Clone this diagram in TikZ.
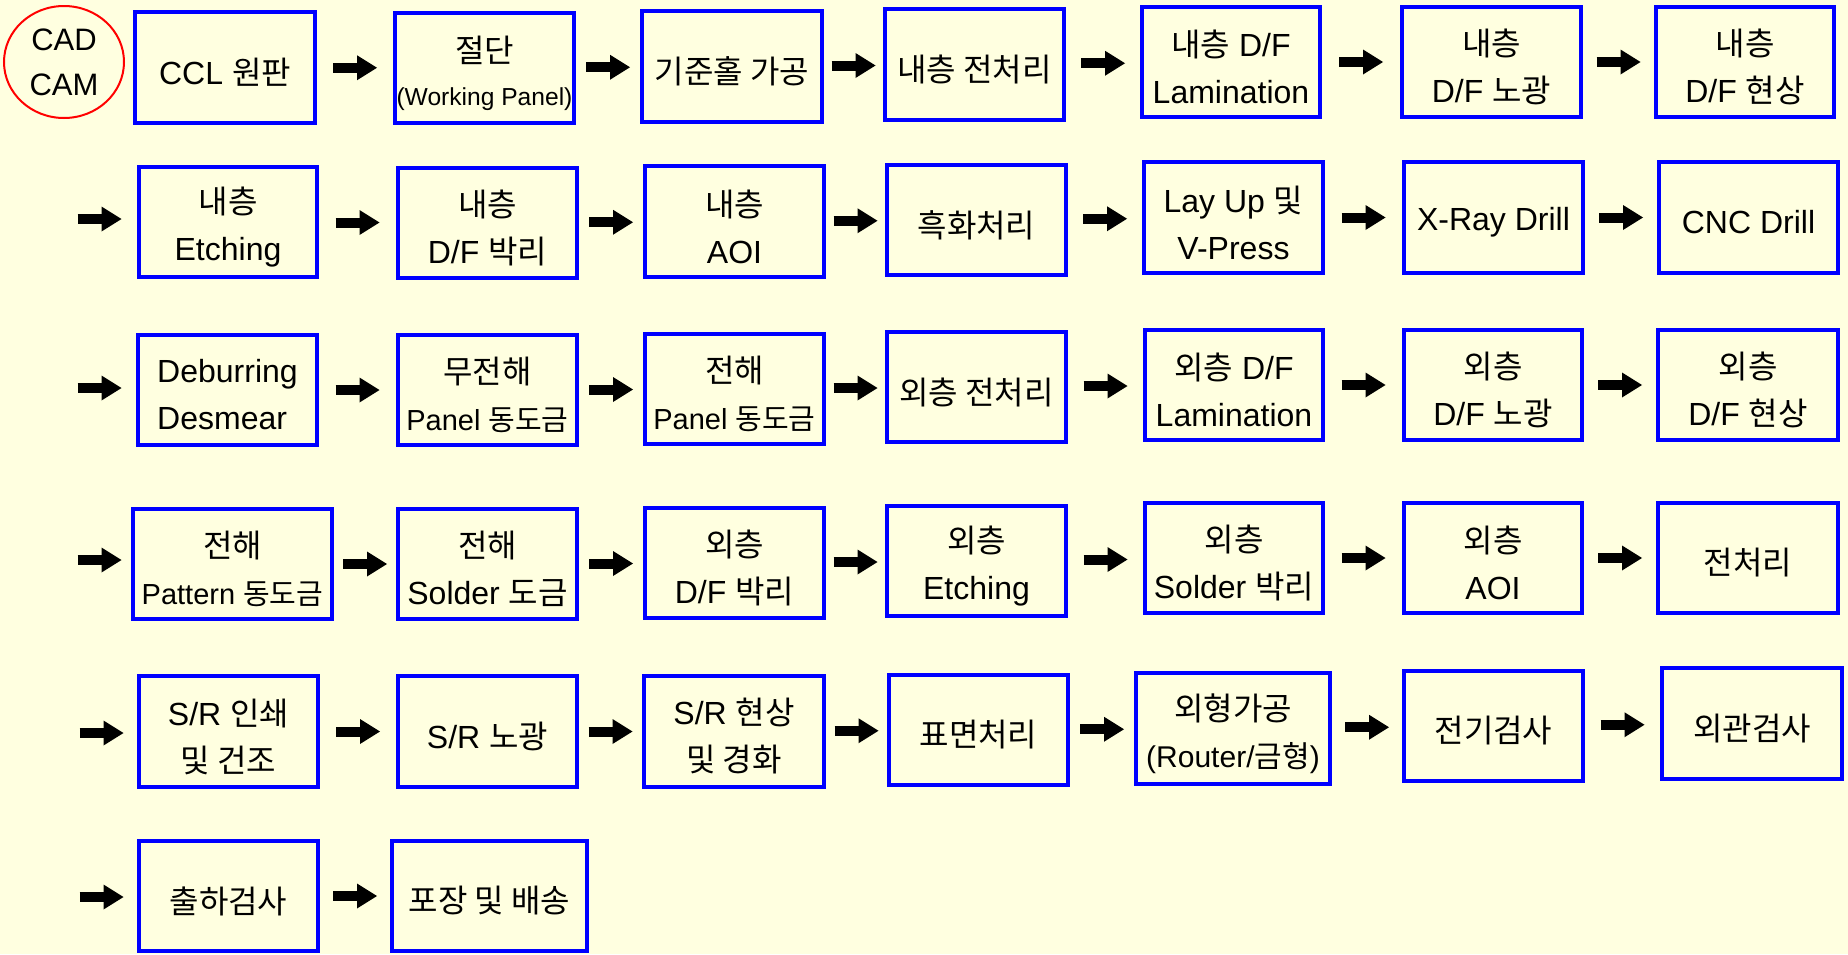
\documentclass[tikz,border=0pt]{standalone}
\usepackage{fontspec}
\setmainfont{Liberation Sans}
\newfontfamily\kr{Noto Sans CJK KR}
\usetikzlibrary{arrows.meta,shapes.geometric,calc}
\newcommand\K[1]{{\kr #1}}
\definecolor{bgyellow}{HTML}{FFFFE0}
\definecolor{boxblue}{HTML}{0000FF}
\tikzset{
  box/.style={draw=boxblue, line width=2pt, inner sep=0pt, outer sep=0pt},
  boxtext/.style={inner sep=0pt, align=center, font=\fontsize{16pt}{23.5pt}\selectfont},
  lefttext/.style={boxtext, align=left},
  arr/.style={line width=5pt, -{Triangle[length=10pt,width=12.5pt,line width=0pt]}},
  cad/.style={draw=red, line width=1pt, ellipse, inner sep=0pt, align=center,
    minimum width=60pt, minimum height=56pt, font=\fontsize{15.5pt}{22.5pt}\selectfont},
}
\newcommand\bx[7][boxtext]{\node[box, minimum width={(#5-#3-4)*0.5pt}, minimum height={(#6-#4-4)*0.5pt}] (#2) at ({(#3+#5)/2},{(#4+#6)/2}) {};
  \node[#1] (#2t) at ([yshift=-2.5pt]#2.center) {#7};}
\newcommand\link[3]{\path (#1.east) -- (#2.west) coordinate[pos=.5] (#3); \draw[arr] ([xshift=-11pt]#3) -- ([xshift=11pt]#3);}
\newcommand\startarr[3]{\coordinate (#1) at (#2,#3); \draw[arr] ([xshift=-11pt]#1) -- ([xshift=11pt]#1);}
\newcommand\sm[1]{{\fontsize{12.3pt}{14pt}\selectfont #1}}
\newcommand\smb[1]{{\fontsize{15pt}{16pt}\selectfont #1}}
\newcommand\nar[1]{{\fontsize{14.5pt}{16pt}\selectfont #1}}
\begin{document}
\begin{tikzpicture}[x=0.5pt,y=-0.5pt]
\fill[bgyellow] (0,0) rectangle (1848,954);
\useasboundingbox (0,0) rectangle (1848,954);
% Row 1
\node[cad] (cad) at (64,62) {CAD\\CAM};
\bx{b1}{133}{10}{317}{125}{CCL \K{원판}}
\bx{b2}{393}{11}{576}{125}{\K{절단}\\[-2pt]\sm{(Working Panel)}}
\bx{b3}{640}{9}{824}{124}{\K{기준홀 가공}}
\bx{b4}{883}{7}{1066}{122}{\K{내층 전처리}}
\bx{b5}{1140}{5}{1322}{119}{\K{내층} D/F\\Lamination}
\bx{b6}{1400}{5}{1583}{119}{\K{내층}\\D/F \K{노광}}
\bx{b7}{1654}{5}{1836}{119}{\K{내층}\\D/F \K{현상}}
\link{b1}{b2}{m12}\link{b2}{b3}{m23}\link{b3}{b4}{m34}\link{b4}{b5}{m45}\link{b5}{b6}{m56}\link{b6}{b7}{m67}
% Row 2
\bx{c1}{137}{165}{319}{279}{\K{내층}\\Etching}
\bx{c2}{396}{166}{579}{280}{\K{내층}\\D/F \K{박리}}
\bx{c3}{643}{164}{826}{279}{\K{내층}\\AOI}
\bx{c4}{885}{163}{1068}{277}{\K{흑화처리}}
\bx{c5}{1142}{160}{1325}{275}{Lay Up \K{및}\\V-Press}
\bx{c6}{1402}{160}{1585}{275}{X-Ray Drill}
\bx{c7}{1657}{160}{1840}{275}{CNC Drill}
\startarr{s2}{99.5}{219}
\link{c1}{c2}{n12}\link{c2}{c3}{n23}\link{c3}{c4}{n34}\link{c4}{c5}{n45}\link{c5}{c6}{n56}\link{c6}{c7}{n67}
% Row 3
\bx[lefttext]{d1}{136}{333}{319}{447}{Deburring\\Desmear}
\bx{d2}{396}{333}{579}{447}{\K{무전해}\\\nar{Panel \K{동도금}}}
\bx{d3}{643}{332}{826}{446}{\K{전해}\\\nar{Panel \K{동도금}}}
\bx{d4}{885}{330}{1068}{444}{\K{외층 전처리}}
\bx{d5}{1143}{328}{1325}{442}{\K{외층} D/F\\Lamination}
\bx{d6}{1402}{328}{1584}{442}{\K{외층}\\D/F \K{노광}}
\bx{d7}{1656}{328}{1840}{442}{\K{외층}\\D/F \K{현상}}
\startarr{s3}{99.5}{388}
\link{d1}{d2}{o12}\link{d2}{d3}{o23}\link{d3}{d4}{o34}\link{d4}{d5}{o45}\link{d5}{d6}{o56}\link{d6}{d7}{o67}
% Row 4
\bx{e1}{131}{507}{334}{621}{\K{전해}\\\nar{Pattern \K{동도금}}}
\bx{e2}{396}{507}{579}{621}{\K{전해}\\Solder \K{도금}}
\bx{e3}{643}{506}{826}{620}{\K{외층}\\D/F \K{박리}}
\bx{e4}{885}{504}{1068}{618}{\K{외층}\\Etching}
\bx{e5}{1143}{501}{1325}{615}{\K{외층}\\Solder \K{박리}}
\bx{e6}{1402}{501}{1584}{615}{\K{외층}\\AOI}
\bx{e7}{1656}{501}{1840}{615}{\K{전처리}}
\startarr{s4}{99.5}{560}
\link{e1}{e2}{p12}\link{e2}{e3}{p23}\link{e3}{e4}{p34}\link{e4}{e5}{p45}\link{e5}{e6}{p56}\link{e6}{e7}{p67}
% Row 5
\bx{f1}{137}{674}{320}{789}{S/R \K{인쇄}\\\K{및 건조}}
\bx{f2}{396}{674}{579}{789}{S/R \K{노광}}
\bx{f3}{642}{674}{826}{789}{S/R \K{현상}\\\K{및 경화}}
\bx{f4}{887}{673}{1070}{787}{\K{표면처리}}
\bx{f5}{1134}{671}{1332}{786}{\K{외형가공}\\\smb{(Router/\K{금형})}}
\bx{f6}{1402}{669}{1585}{783}{\K{전기검사}}
\bx{f7}{1660}{666}{1844}{781}{\K{외관검사}}
\startarr{s5}{101.5}{733}
\link{f1}{f2}{q12}\link{f2}{f3}{q23}\link{f3}{f4}{q34}\link{f4}{f5}{q45}\link{f5}{f6}{q56}\link{f6}{f7}{q67}
% Row 6
\bx{g1}{137}{839}{320}{953}{\K{출하검사}}
\bx{g2}{390}{839}{589}{953}{\K{포장 및 배송}}
\startarr{s6}{101.5}{897}
\link{g1}{g2}{r12}
\end{tikzpicture}
\end{document}
